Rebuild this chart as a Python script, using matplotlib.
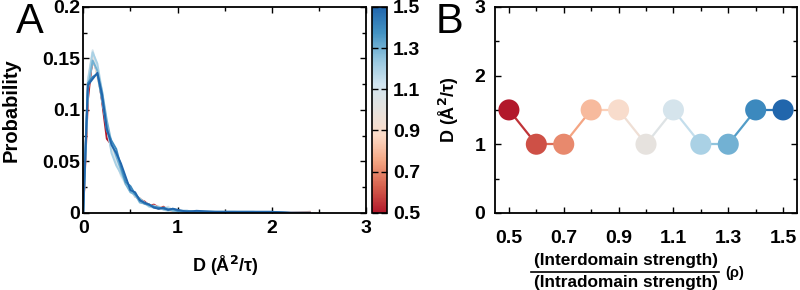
import numpy as np
import matplotlib
matplotlib.use('Agg')
import matplotlib.pyplot as plt
from matplotlib.ticker import MultipleLocator
from matplotlib.colors import Normalize, LinearSegmentedColormap
from matplotlib.cm import ScalarMappable

plt.rcParams['font.family'] = ['Liberation Sans', 'DejaVu Sans']
plt.rcParams['font.weight'] = 'bold'
plt.rcParams['mathtext.default'] = 'bf'

# panel A: distributions of D for each rho
d_bins = [0, 0.05, 0.1, 0.15, 0.2, 0.25, 0.3, 0.35, 0.4, 0.45, 0.5, 0.55, 0.6, 0.65,
          0.7, 0.75, 0.8, 0.85, 0.9, 0.95, 1.0, 1.1, 1.2, 1.4, 1.6, 1.8, 2.0, 2.2, 2.4]
rho_values = [0.5, 0.6, 0.7, 0.8, 0.9, 1.0, 1.1, 1.2, 1.3, 1.4, 1.5]
p050 = [0, 0.110, 0.152, 0.140, 0.108, 0.072, 0.066, 0.050, 0.040, 0.030, 0.024, 0.016, 0.013, 0.011, 0.007, 0.008, 0.005, 0.004, 0.005, 0.002, 0.001, 0.001, 0, 0, 0, 0, 0, 0, 0]
p060 = [0, 0.118, 0.150, 0.135, 0.112, 0.082, 0.062, 0.052, 0.038, 0.033, 0.022, 0.018, 0.012, 0.009, 0.008, 0.006, 0.004, 0.006, 0.003, 0.002, 0.002, 0.001, 0, 0, 0, 0, 0, 0, 0]
p070 = [0, 0.122, 0.148, 0.138, 0.110, 0.085, 0.064, 0.048, 0.040, 0.028, 0.025, 0.017, 0.014, 0.010, 0.007, 0.007, 0.005, 0.004, 0.004, 0.003, 0.001, 0.001, 0.001, 0, 0, 0, 0, 0, 0.001]
p080 = [0, 0.125, 0.153, 0.136, 0.115, 0.083, 0.066, 0.050, 0.042, 0.030, 0.022, 0.018, 0.012, 0.010, 0.008, 0.006, 0.006, 0.004, 0.003, 0.002, 0.002, 0.001, 0, 0, 0, 0, 0, 0, 0]
p090 = [0, 0.128, 0.155, 0.132, 0.112, 0.088, 0.062, 0.054, 0.038, 0.031, 0.024, 0.016, 0.013, 0.009, 0.008, 0.005, 0.005, 0.004, 0.003, 0.003, 0.001, 0.001, 0.001, 0, 0, 0, 0, 0, 0]
p100 = [0, 0.125, 0.150, 0.135, 0.110, 0.086, 0.065, 0.052, 0.040, 0.030, 0.022, 0.017, 0.012, 0.010, 0.007, 0.006, 0.005, 0.004, 0.003, 0.002, 0.002, 0.001, 0, 0, 0, 0, 0, 0, 0]
p110 = [0, 0.130, 0.158, 0.140, 0.112, 0.084, 0.060, 0.050, 0.036, 0.028, 0.024, 0.018, 0.012, 0.009, 0.006, 0.007, 0.005, 0.004, 0.006, 0.002, 0.002, 0.001, 0.001, 0.001, 0, 0, 0, 0, 0]
p120 = [0, 0.128, 0.156, 0.145, 0.118, 0.085, 0.058, 0.046, 0.038, 0.030, 0.022, 0.016, 0.014, 0.010, 0.006, 0.005, 0.006, 0.003, 0.002, 0.003, 0.001, 0.001, 0.001, 0.001, 0.001, 0, 0, 0, 0]
p130 = [0, 0.120, 0.148, 0.138, 0.118, 0.090, 0.068, 0.055, 0.042, 0.028, 0.020, 0.018, 0.010, 0.009, 0.007, 0.006, 0.004, 0.005, 0.004, 0.002, 0.002, 0.001, 0.001, 0.001, 0.001, 0.001, 0, 0, 0]
p140 = [0, 0.126, 0.132, 0.135, 0.110, 0.080, 0.070, 0.062, 0.045, 0.030, 0.026, 0.018, 0.013, 0.009, 0.008, 0.006, 0.005, 0.004, 0.003, 0.004, 0.002, 0.002, 0.001, 0.001, 0.001, 0.001, 0.001, 0, 0]
p150 = [0, 0.124, 0.130, 0.136, 0.115, 0.082, 0.066, 0.058, 0.048, 0.035, 0.022, 0.020, 0.012, 0.010, 0.008, 0.005, 0.004, 0.005, 0.003, 0.004, 0.003, 0.001, 0.002, 0.001, 0.001, 0.001, 0.001, 0, 0]
all_probs = [p050, p060, p070, p080, p090, p100, p110, p120, p130, p140, p150]

# panel B: mean D vs rho
d_mean = [1.5, 1.0, 1.0, 1.5, 1.5, 1.0, 1.5, 1.0, 1.0, 1.5, 1.5]

# red-grey-blue map like the figure
cmap = LinearSegmentedColormap.from_list('rdgybu', ['#b2182b', '#d6604d', '#f4a582', '#fddbc7', '#e6e2de',
                                                    '#d1e5f0', '#92c5de', '#4393c3', '#2166ac'])
norm = Normalize(0.5, 1.5)

fig = plt.figure(figsize=(8, 2.9), dpi=100)
axA = fig.add_axes([0.104, 0.266, 0.354, 0.710])
cax = fig.add_axes([0.465, 0.266, 0.019, 0.710])
axB = fig.add_axes([0.619, 0.266, 0.377, 0.710])

for rho, prob in zip(rho_values, all_probs):
    axA.plot(d_bins, prob, color=cmap(norm(rho)), lw=1.4)

axA.set_xlim(0, 3)
axA.set_ylim(0, 0.2)
axA.xaxis.set_major_locator(MultipleLocator(1))
axA.xaxis.set_minor_locator(MultipleLocator(0.5))
axA.yaxis.set_minor_locator(MultipleLocator(0.025))
axA.set_yticks([0, 0.05, 0.1, 0.15, 0.2])
axA.set_yticklabels(['0', '0.05', '0.1', '0.15', '0.2'])
axA.set_xlabel(r'D (Å$^2$/τ)', fontsize=13, fontweight='bold', labelpad=12)
axA.set_ylabel('Probability', fontsize=14.5, fontweight='bold', va='center')
axA.yaxis.set_label_coords(-0.255, 0.5)

cb = fig.colorbar(ScalarMappable(norm=norm, cmap=cmap), cax=cax)
cb.set_ticks([0.5, 0.7, 0.9, 1.1, 1.3, 1.5])
cb.ax.tick_params(direction='in', length=4, width=1, labelsize=14, pad=4, left=True)
cb.outline.set_linewidth(1.2)
for lbl in cb.ax.get_yticklabels():
    lbl.set_fontweight('bold')

# points with coloured connecting segments
for i in range(len(rho_values) - 1):
    mid = 0.5 * (rho_values[i] + rho_values[i + 1])
    axB.plot(rho_values[i:i + 2], d_mean[i:i + 2], color=cmap(norm(mid)), lw=1.6, zorder=1)
axB.scatter(rho_values, d_mean, s=230, c=rho_values, cmap=cmap, norm=norm, zorder=2, edgecolors='none')
axB.set_xlim(0.45, 1.55)
axB.set_ylim(0, 3)
axB.set_xticks([0.5, 0.7, 0.9, 1.1, 1.3, 1.5])
axB.xaxis.set_minor_locator(MultipleLocator(0.1))
axB.yaxis.set_major_locator(MultipleLocator(1))
axB.yaxis.set_minor_locator(MultipleLocator(0.5))
axB.set_ylabel(r'D (Å$^2$/τ)', fontsize=13, fontweight='bold', labelpad=10)

for ax in (axA, axB):
    ax.tick_params(which='both', direction='in', top=True, right=True, labelsize=14, width=1)
    ax.tick_params(which='major', length=4)
    ax.tick_params(which='minor', length=3)
    for s in ax.spines.values():
        s.set_linewidth(1.3)
    for lbl in ax.get_xticklabels() + ax.get_yticklabels():
        lbl.set_fontweight('bold')
axA.tick_params(axis='x', pad=5)
axA.tick_params(axis='y', pad=2)
axB.tick_params(axis='x', pad=12)
axB.tick_params(axis='y', pad=7)

# fraction-style x label for panel B
fig.text(0.782, 0.100, '(Interdomain strength)', ha='center', va='center', fontsize=12.4, fontweight='bold')
fig.text(0.782, 0.027, '(Intradomain strength)', ha='center', va='center', fontsize=12.4, fontweight='bold')
fig.add_artist(plt.Line2D([0.664, 0.899], [0.062, 0.062], color='black', lw=1.2, transform=fig.transFigure))
fig.text(0.906, 0.058, '(ρ)', ha='left', va='center', fontsize=10.5, fontweight='bold')

fig.text(0.02, 0.885, 'A', fontsize=30, fontweight='normal')
fig.text(0.545, 0.885, 'B', fontsize=30, fontweight='normal')

fig.savefig('out.png', dpi=100)
